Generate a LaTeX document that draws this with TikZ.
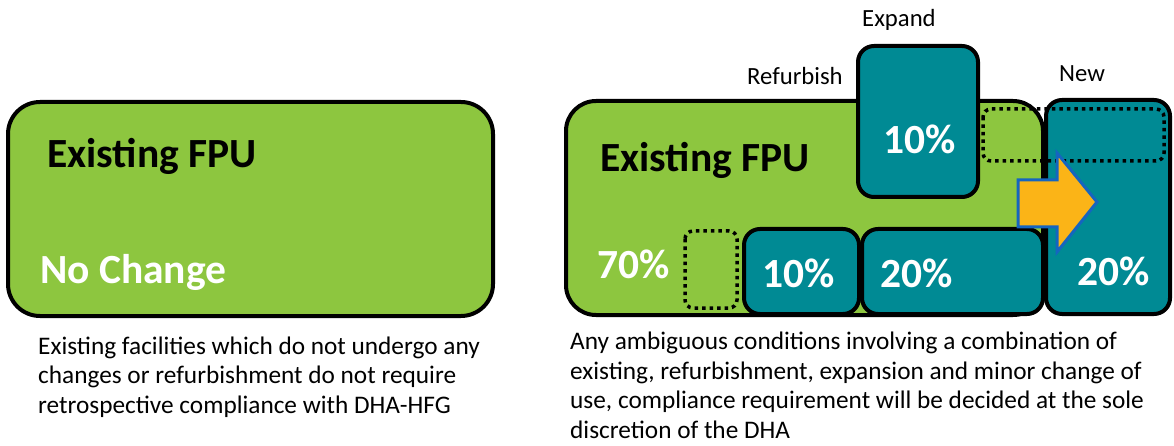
\documentclass[tikz,border=0pt]{standalone}
\usepackage{fontspec}
\setmainfont{Carlito}
\definecolor{fpugreen}{HTML}{8DC63F}
\definecolor{fputeal}{HTML}{008A94}
\definecolor{arroworange}{HTML}{FBB417}
\definecolor{arrowblue}{HTML}{1565C0}
\begin{document}
\begin{tikzpicture}[x=1pt,y=-1pt,
  greenbox/.style={fill=fpugreen,draw=black,line width=4pt,rounded corners=32pt},
  tealbox/.style={fill=fputeal,draw=black,line width=4pt,rounded corners=16pt},
  dotbox/.style={draw=black,line width=3.5pt,dash pattern=on 3.5pt off 4pt,rounded corners=8pt},
  big/.style={font=\fontsize{41.5}{48}\selectfont\bfseries,inner sep=0pt,anchor=base west},
  pct/.style={big,text=white},
  tag/.style={font=\fontsize{24.7}{29}\selectfont,inner sep=0pt,anchor=base west},
  body/.style={font=\fontsize{25.3}{29.5}\selectfont,inner sep=0pt,anchor=base west,align=left}]
\useasboundingbox (0,0) rectangle (1174,446);
\fill[white] (0,0) rectangle (1174,446);

\begin{scope} %NO CHANGE
\draw[greenbox] (8,102) rectangle (493,316);
\node[big] (fpuA) at (47,168) {Existing FPU};
\node[pct] (nochange) at (40,283) {No Change};
% base of a multi-line node sits on its last line
\node[body] (noteA) at (38,413) {Existing facilities which do not undergo any\\changes or refurbishment do not require\\retrospective compliance with DHA-HFG};
\end{scope}

\begin{scope} %MIXED
\draw[greenbox,rounded corners=30pt] (566,101) rectangle (1043,315);
\draw[tealbox] (858,46) rectangle (978,197);
\draw[tealbox] (744,229) rectangle (859,314);
\draw[tealbox] (862,229) rectangle (1043,314);
\draw[tealbox] (1046,100) rectangle (1170,314);
\draw[dotbox] (685,231) rectangle (737,308);
\draw[dotbox] (983,109) rectangle (1164,161);
\draw[fill=arroworange,draw=arrowblue,line width=3pt] (1018,180) -- (1057,180) -- (1057,153) -- (1097,202) -- (1057,252) -- (1057,227) -- (1018,227) -- cycle;
\node[tag] (expand) at (862,27) {Expand};
\node[tag] (refurb) at (747,85) {Refurbish};
\node[tag] (new) at (1059,82) {New};
\node[big] (fpuB) at (600,172) {Existing FPU};
\node[pct] (keep) at (597,278) {70\%};
\node[pct] (ext) at (883,154) {10\%};
\node[pct] (ref) at (762,287) {10\%};
\node[pct] (mod) at (880,287) {20\%};
\node[pct] (fresh) at (1077,285) {20\%};
\node[body] (noteB) at (570,438) {Any ambiguous conditions involving a combination of\\existing, refurbishment, expansion and minor change of\\use, compliance requirement will be decided at the sole\\discretion of the DHA};
\end{scope}
\end{tikzpicture}
\end{document}
